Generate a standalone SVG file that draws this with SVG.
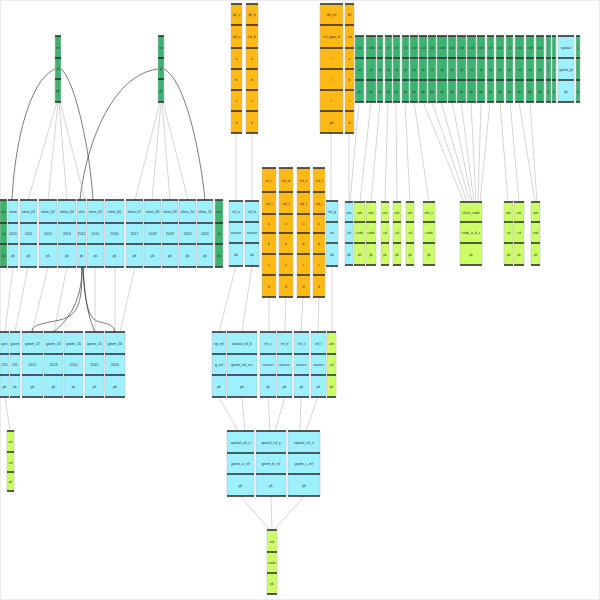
<svg xmlns="http://www.w3.org/2000/svg" width="600" height="600" viewBox="0 0 600 600">
<style>
.cy{fill:#9cf0ff}.gr{fill:#3cb371}.or{fill:#ffb914}.li{fill:#ccff66}
rect{stroke:#c0c0c0;stroke-width:.6}
.sep{stroke:#2a2a2a;stroke-width:1.3;fill:none}
text{font-family:"Liberation Sans",sans-serif;font-size:3.5px;fill:#333;text-anchor:middle}
.e{stroke:#aaa;stroke-width:.5;fill:none}.k{stroke:#222;stroke-width:.6;fill:none}
</style>
<rect x="0" y="0" width="600" height="600" fill="#fff" stroke="none"/>
<g id="edges">
<path class="k" d="M55 69C30 80 15 140 12 200M61 69C75 80 90 150 93 200M158 69C110 75 85 150 80 200M164 69C185 80 200 150 205 200"/>
<path class="e" d="M57 102L28 200M58 102L48 200M59 102L67 200M60 102L85 200M160 102L135 200M161 102L152 200M162 102L170 200M163 102L188 200"/>
<path class="e" d="M236 133V201M252 133V201M331 133V201M349 133V202"/>
<path class="e" d="M359 102L350 202M371 102L360 202M380 102L371 202M388 102L385 202M396 102L397 202M405 102L410 202M414 102L429 202M423 102L464 202M432 102L467 202M441 102L470 202M452 102L472 202M461 102L474 202M471 102L476 202M481 102L478 202M490 102L480 202M500 102L508 202M510 102L519 202M519 102L535 202M530 102L537 202"/>
<path class="e" d="M13 267L5 332M28 267L15 332M48 267L32 332M67 267L54 332M95 267L95 332M115 267L115 332M135 267L120 332"/>
<path class="k" d="M82 267C82 300 80 315 60 320C40 324 32 325 32 332M82 267C82 300 70 318 54 332M83 267C85 310 90 320 100 322C110 324 114 326 115 332M83 267C85 310 92 325 95 332"/>
<path class="e" d="M236 266L219 332M252 266L242 332M269 297V332M286 297L285 332M303 297L301 332M319 297L318 332M332 266V332"/>
<path class="e" d="M219 397L238 431M242 397L245 431M268 397L270 431M285 397L275 431M301 397L300 431M318 397L306 431M5 397L10 431"/>
<path class="e" d="M240 496L270 530M271 496L272 530M304 496L274 530"/>
</g>
<g id="gA"><rect class="gr" x="55" y="36" width="6" height="66"/><path class="sep" d="M55 36h6M55 58h6M55 79h6M55 102h6"/><text x="58" y="48.5">en</text><text x="58" y="70">id</text><text x="58" y="92">pk</text></g>
<g id="gB"><rect class="gr" x="158" y="36" width="6" height="66"/><path class="sep" d="M158 36h6M158 58h6M158 79h6M158 102h6"/><text x="161" y="48.5">en</text><text x="161" y="70">id</text><text x="161" y="92">pk</text></g>
<g id="o1"><rect class="or" x="231" y="4" width="11" height="129"/><path class="sep" d="M231 4h11M231 25h11M231 48h11M231 69h11M231 90h11M231 111h11M231 133h11"/><text x="236.5" y="16">tbl_a</text><text x="236.5" y="38">rid_a</text><text x="236.5" y="60">a</text><text x="236.5" y="81">b</text><text x="236.5" y="102">c</text><text x="236.5" y="123.5">d</text></g>
<g id="o2"><rect class="or" x="246" y="4" width="12" height="129"/><path class="sep" d="M246 4h12M246 25h12M246 48h12M246 69h12M246 90h12M246 111h12M246 133h12"/><text x="252" y="16">tbl_b</text><text x="252" y="38">rid_b</text><text x="252" y="60">a</text><text x="252" y="81">b</text><text x="252" y="102">c</text><text x="252" y="123.5">d</text></g>
<g id="o3"><rect class="or" x="320" y="4" width="23" height="129"/><path class="sep" d="M320 4h23M320 25h23M320 48h23M320 69h23M320 90h23M320 111h23M320 133h23"/><text x="331.5" y="16">tbl_rel</text><text x="331.5" y="38">rel_type_d</text><text x="331.5" y="60">i</text><text x="331.5" y="81">i</text><text x="331.5" y="102">i</text><text x="331.5" y="123.5">pk</text></g>
<g id="o4"><rect class="or" x="345" y="4" width="9" height="129"/><path class="sep" d="M345 4h9M345 25h9M345 48h9M345 69h9M345 90h9M345 111h9M345 133h9"/><text x="349.5" y="16">tbl</text><text x="349.5" y="38">rid</text><text x="349.5" y="60">a</text><text x="349.5" y="81">b</text><text x="349.5" y="102">c</text><text x="349.5" y="123.5">d</text></g>
<g id="r1"><rect class="gr" x="355" y="36" width="9" height="66"/><path class="sep" d="M355 36h9M355 58h9M355 80h9M355 102h9"/><text x="359.5" y="48.5">cod</text><text x="359.5" y="70.5">id</text><text x="359.5" y="92.5">pk</text></g>
<g id="r2"><rect class="gr" x="366" y="36" width="10" height="66"/><path class="sep" d="M366 36h10M366 58h10M366 80h10M366 102h10"/><text x="371" y="48.5">code</text><text x="371" y="70.5">id</text><text x="371" y="92.5">pk</text></g>
<g id="r3"><rect class="gr" x="377" y="36" width="6" height="66"/><path class="sep" d="M377 36h6M377 58h6M377 80h6M377 102h6"/><text x="380" y="48.5">cd</text><text x="380" y="70.5">id</text><text x="380" y="92.5">pk</text></g>
<g id="r4"><rect class="gr" x="385" y="36" width="7" height="66"/><path class="sep" d="M385 36h7M385 58h7M385 80h7M385 102h7"/><text x="388.5" y="48.5">cd</text><text x="388.5" y="70.5">id</text><text x="388.5" y="92.5">pk</text></g>
<g id="r5"><rect class="gr" x="393" y="36" width="7" height="66"/><path class="sep" d="M393 36h7M393 58h7M393 80h7M393 102h7"/><text x="396.5" y="48.5">cd</text><text x="396.5" y="70.5">id</text><text x="396.5" y="92.5">pk</text></g>
<g id="r6"><rect class="gr" x="402" y="36" width="7" height="66"/><path class="sep" d="M402 36h7M402 58h7M402 80h7M402 102h7"/><text x="405.5" y="48.5">cd</text><text x="405.5" y="70.5">id</text><text x="405.5" y="92.5">pk</text></g>
<g id="r7"><rect class="gr" x="410" y="36" width="8" height="66"/><path class="sep" d="M410 36h8M410 58h8M410 80h8M410 102h8"/><text x="414" y="48.5">cod</text><text x="414" y="70.5">id</text><text x="414" y="92.5">pk</text></g>
<g id="r8"><rect class="gr" x="419" y="36" width="8" height="66"/><path class="sep" d="M419 36h8M419 58h8M419 80h8M419 102h8"/><text x="423" y="48.5">cod</text><text x="423" y="70.5">id</text><text x="423" y="92.5">pk</text></g>
<g id="r9"><rect class="gr" x="428" y="36" width="8" height="66"/><path class="sep" d="M428 36h8M428 58h8M428 80h8M428 102h8"/><text x="432" y="48.5">cod</text><text x="432" y="70.5">id</text><text x="432" y="92.5">pk</text></g>
<g id="r10"><rect class="gr" x="437" y="36" width="10" height="66"/><path class="sep" d="M437 36h10M437 58h10M437 80h10M437 102h10"/><text x="442" y="48.5">code</text><text x="442" y="70.5">id</text><text x="442" y="92.5">pk</text></g>
<g id="r11"><rect class="gr" x="448" y="36" width="8" height="66"/><path class="sep" d="M448 36h8M448 58h8M448 80h8M448 102h8"/><text x="452" y="48.5">cod</text><text x="452" y="70.5">id</text><text x="452" y="92.5">pk</text></g>
<g id="r12"><rect class="gr" x="457" y="36" width="9" height="66"/><path class="sep" d="M457 36h9M457 58h9M457 80h9M457 102h9"/><text x="461.5" y="48.5">cod</text><text x="461.5" y="70.5">id</text><text x="461.5" y="92.5">pk</text></g>
<g id="r13"><rect class="gr" x="467" y="36" width="9" height="66"/><path class="sep" d="M467 36h9M467 58h9M467 80h9M467 102h9"/><text x="471.5" y="48.5">cod</text><text x="471.5" y="70.5">id</text><text x="471.5" y="92.5">pk</text></g>
<g id="r14"><rect class="gr" x="477" y="36" width="8" height="66"/><path class="sep" d="M477 36h8M477 58h8M477 80h8M477 102h8"/><text x="481" y="48.5">cod</text><text x="481" y="70.5">id</text><text x="481" y="92.5">pk</text></g>
<g id="r15"><rect class="gr" x="487" y="36" width="7" height="66"/><path class="sep" d="M487 36h7M487 58h7M487 80h7M487 102h7"/><text x="490.5" y="48.5">cd</text><text x="490.5" y="70.5">id</text><text x="490.5" y="92.5">pk</text></g>
<g id="r16"><rect class="gr" x="496" y="36" width="8" height="66"/><path class="sep" d="M496 36h8M496 58h8M496 80h8M496 102h8"/><text x="500" y="48.5">cod</text><text x="500" y="70.5">id</text><text x="500" y="92.5">pk</text></g>
<g id="r17"><rect class="gr" x="506" y="36" width="7" height="66"/><path class="sep" d="M506 36h7M506 58h7M506 80h7M506 102h7"/><text x="509.5" y="48.5">cd</text><text x="509.5" y="70.5">id</text><text x="509.5" y="92.5">pk</text></g>
<g id="r18"><rect class="gr" x="515" y="36" width="9" height="66"/><path class="sep" d="M515 36h9M515 58h9M515 80h9M515 102h9"/><text x="519.5" y="48.5">cod</text><text x="519.5" y="70.5">id</text><text x="519.5" y="92.5">pk</text></g>
<g id="r19"><rect class="gr" x="526" y="36" width="8" height="66"/><path class="sep" d="M526 36h8M526 58h8M526 80h8M526 102h8"/><text x="530" y="48.5">cod</text><text x="530" y="70.5">id</text><text x="530" y="92.5">pk</text></g>
<g id="r20"><rect class="gr" x="536" y="36" width="8" height="66"/><path class="sep" d="M536 36h8M536 58h8M536 80h8M536 102h8"/><text x="540" y="48.5">cod</text><text x="540" y="70.5">id</text><text x="540" y="92.5">pk</text></g>
<g id="r21"><rect class="gr" x="546" y="36" width="5" height="66"/><path class="sep" d="M546 36h5M546 58h5M546 80h5M546 102h5"/><text x="548.5" y="48.5">c</text><text x="548.5" y="70.5">i</text><text x="548.5" y="92.5">p</text></g>
<g id="r22"><rect class="gr" x="552" y="36" width="4" height="66"/><path class="sep" d="M552 36h4M552 58h4M552 80h4M552 102h4"/><text x="554" y="48.5">c</text><text x="554" y="70.5">i</text><text x="554" y="92.5">p</text></g>
<g id="r23"><rect class="cy" x="558" y="36" width="16" height="66"/><path class="sep" d="M558 36h16M558 58h16M558 80h16M558 102h16"/><text x="566" y="48.5">spatial</text><text x="566" y="70.5">geom_pt</text><text x="566" y="92.5">pk</text></g>
<g id="r24"><rect class="gr" x="576" y="36" width="4" height="66"/><path class="sep" d="M576 36h4M576 58h4M576 80h4M576 102h4"/><text x="578" y="48.5">c</text><text x="578" y="70.5">i</text><text x="578" y="92.5">p</text></g>
<g id="c0"><rect class="gr" x="0" y="200" width="7" height="67"/><path class="sep" d="M0 200h7M0 223h7M0 244h7M0 267h7"/><text x="3.5" y="213">ent</text><text x="3.5" y="235">id</text><text x="3.5" y="257">pk</text></g>
<g id="c1"><rect class="cy" x="8" y="200" width="10" height="67"/><path class="sep" d="M8 200h10M8 223h10M8 244h10M8 267h10"/><text x="13" y="213">elem</text><text x="13" y="235">2010</text><text x="13" y="257">pk</text></g>
<g id="c2"><rect class="cy" x="20" y="200" width="17" height="67"/><path class="sep" d="M20 200h17M20 223h17M20 244h17M20 267h17"/><text x="28.5" y="213">elem_01</text><text x="28.5" y="235">2011</text><text x="28.5" y="257">pk</text></g>
<g id="c3"><rect class="cy" x="39" y="200" width="18" height="67"/><path class="sep" d="M39 200h18M39 223h18M39 244h18M39 267h18"/><text x="48" y="213">elem_02</text><text x="48" y="235">2012</text><text x="48" y="257">pk</text></g>
<g id="c4"><rect class="cy" x="58" y="200" width="18" height="67"/><path class="sep" d="M58 200h18M58 223h18M58 244h18M58 267h18"/><text x="67" y="213">elem_03</text><text x="67" y="235">2013</text><text x="67" y="257">pk</text></g>
<g id="c5"><rect class="cy" x="77" y="200" width="9" height="67"/><path class="sep" d="M77 200h9M77 223h9M77 244h9M77 267h9"/><text x="81.5" y="213">elm</text><text x="81.5" y="235">2014</text><text x="81.5" y="257">pk</text></g>
<g id="c6"><rect class="cy" x="87" y="200" width="17" height="67"/><path class="sep" d="M87 200h17M87 223h17M87 244h17M87 267h17"/><text x="95.5" y="213">elem_05</text><text x="95.5" y="235">2015</text><text x="95.5" y="257">pk</text></g>
<g id="c7"><rect class="cy" x="105" y="200" width="19" height="67"/><path class="sep" d="M105 200h19M105 223h19M105 244h19M105 267h19"/><text x="114.5" y="213">elem_06</text><text x="114.5" y="235">2016</text><text x="114.5" y="257">pk</text></g>
<g id="c8"><rect class="cy" x="126" y="200" width="17" height="67"/><path class="sep" d="M126 200h17M126 223h17M126 244h17M126 267h17"/><text x="134.5" y="213">elem_07</text><text x="134.5" y="235">2017</text><text x="134.5" y="257">pk</text></g>
<g id="c9"><rect class="cy" x="144" y="200" width="17" height="67"/><path class="sep" d="M144 200h17M144 223h17M144 244h17M144 267h17"/><text x="152.5" y="213">elem_08</text><text x="152.5" y="235">2018</text><text x="152.5" y="257">pk</text></g>
<g id="c10"><rect class="cy" x="162" y="200" width="16" height="67"/><path class="sep" d="M162 200h16M162 223h16M162 244h16M162 267h16"/><text x="170" y="213">elem_09</text><text x="170" y="235">2019</text><text x="170" y="257">pk</text></g>
<g id="c11"><rect class="cy" x="179" y="200" width="17" height="67"/><path class="sep" d="M179 200h17M179 223h17M179 244h17M179 267h17"/><text x="187.5" y="213">elem_10</text><text x="187.5" y="235">2020</text><text x="187.5" y="257">pk</text></g>
<g id="c12"><rect class="cy" x="197" y="200" width="16" height="67"/><path class="sep" d="M197 200h16M197 223h16M197 244h16M197 267h16"/><text x="205" y="213">elem_11</text><text x="205" y="235">2021</text><text x="205" y="257">pk</text></g>
<g id="c13"><rect class="gr" x="215" y="200" width="8" height="67"/><path class="sep" d="M215 200h8M215 223h8M215 244h8M215 267h8"/><text x="219" y="213">ent</text><text x="219" y="235">id</text><text x="219" y="257">pk</text></g>
<g id="m1"><rect class="cy" x="229" y="201" width="14" height="65"/><path class="sep" d="M229 201h14M229 222h14M229 243h14M229 266h14"/><text x="236" y="213">rel_a</text><text x="236" y="234">source</text><text x="236" y="256">pk</text></g>
<g id="m2"><rect class="cy" x="245" y="201" width="14" height="65"/><path class="sep" d="M245 201h14M245 222h14M245 243h14M245 266h14"/><text x="252" y="213">rel_b</text><text x="252" y="234">source</text><text x="252" y="256">pk</text></g>
<g id="m3"><rect class="or" x="262" y="168" width="14" height="129"/><path class="sep" d="M262 168h14M262 192h14M262 214h14M262 233h14M262 254h14M262 275h14M262 297h14"/><text x="269" y="181.5">rel_c</text><text x="269" y="204.5">rid_t</text><text x="269" y="225">a</text><text x="269" y="245">b</text><text x="269" y="266">c</text><text x="269" y="287.5">d</text></g>
<g id="m4"><rect class="or" x="279" y="168" width="14" height="129"/><path class="sep" d="M279 168h14M279 192h14M279 214h14M279 233h14M279 254h14M279 275h14M279 297h14"/><text x="286" y="181.5">rel_d</text><text x="286" y="204.5">rid_t</text><text x="286" y="225">a</text><text x="286" y="245">b</text><text x="286" y="266">c</text><text x="286" y="287.5">d</text></g>
<g id="m5"><rect class="or" x="297" y="168" width="13" height="129"/><path class="sep" d="M297 168h13M297 192h13M297 214h13M297 233h13M297 254h13M297 275h13M297 297h13"/><text x="303.5" y="181.5">rel_e</text><text x="303.5" y="204.5">rid_t</text><text x="303.5" y="225">a</text><text x="303.5" y="245">b</text><text x="303.5" y="266">c</text><text x="303.5" y="287.5">d</text></g>
<g id="m6"><rect class="or" x="313" y="168" width="12" height="129"/><path class="sep" d="M313 168h12M313 192h12M313 214h12M313 233h12M313 254h12M313 275h12M313 297h12"/><text x="319" y="181.5">rel_f</text><text x="319" y="204.5">rid_t</text><text x="319" y="225">a</text><text x="319" y="245">b</text><text x="319" y="266">c</text><text x="319" y="287.5">d</text></g>
<g id="m7"><rect class="cy" x="326" y="201" width="12" height="65"/><path class="sep" d="M326 201h12M326 222h12M326 243h12M326 266h12"/><text x="332" y="213">rel_g</text><text x="332" y="234">src</text><text x="332" y="256">pk</text></g>
<g id="l0"><rect class="cy" x="345" y="202" width="8" height="63"/><path class="sep" d="M345 202h8M345 222h8M345 243h8M345 265h8"/><text x="349" y="213.5">attr</text><text x="349" y="234">cd</text><text x="349" y="255.5">pk</text></g>
<g id="l1"><rect class="li" x="354" y="202" width="11" height="63"/><path class="sep" d="M354 202h11M354 222h11M354 243h11M354 265h11"/><text x="359.5" y="213.5">attr</text><text x="359.5" y="234">code</text><text x="359.5" y="255.5">pk</text></g>
<g id="l2"><rect class="li" x="366" y="202" width="10" height="63"/><path class="sep" d="M366 202h10M366 222h10M366 243h10M366 265h10"/><text x="371" y="213.5">attr</text><text x="371" y="234">code</text><text x="371" y="255.5">pk</text></g>
<g id="l3"><rect class="li" x="381" y="202" width="8" height="63"/><path class="sep" d="M381 202h8M381 222h8M381 243h8M381 265h8"/><text x="385" y="213.5">attr</text><text x="385" y="234">cd</text><text x="385" y="255.5">pk</text></g>
<g id="l4"><rect class="li" x="393" y="202" width="8" height="63"/><path class="sep" d="M393 202h8M393 222h8M393 243h8M393 265h8"/><text x="397" y="213.5">attr</text><text x="397" y="234">cd</text><text x="397" y="255.5">pk</text></g>
<g id="l5"><rect class="li" x="406" y="202" width="8" height="63"/><path class="sep" d="M406 202h8M406 222h8M406 243h8M406 265h8"/><text x="410" y="213.5">attr</text><text x="410" y="234">cd</text><text x="410" y="255.5">pk</text></g>
<g id="l6"><rect class="li" x="423" y="202" width="12" height="63"/><path class="sep" d="M423 202h12M423 222h12M423 243h12M423 265h12"/><text x="429" y="213.5">attr_c</text><text x="429" y="234">code</text><text x="429" y="255.5">pk</text></g>
<g id="l7"><rect class="li" x="460" y="202" width="22" height="63"/><path class="sep" d="M460 202h22M460 222h22M460 243h22M460 265h22"/><text x="471" y="213.5">class_code</text><text x="471" y="234">code_a_b_c</text><text x="471" y="255.5">pk</text></g>
<g id="l8"><rect class="li" x="504" y="202" width="9" height="63"/><path class="sep" d="M504 202h9M504 222h9M504 243h9M504 265h9"/><text x="508.5" y="213.5">attr</text><text x="508.5" y="234">cd</text><text x="508.5" y="255.5">pk</text></g>
<g id="l9"><rect class="li" x="514" y="202" width="10" height="63"/><path class="sep" d="M514 202h10M514 222h10M514 243h10M514 265h10"/><text x="519" y="213.5">attr</text><text x="519" y="234">cd</text><text x="519" y="255.5">pk</text></g>
<g id="l10"><rect class="li" x="531" y="202" width="9" height="63"/><path class="sep" d="M531 202h9M531 222h9M531 243h9M531 265h9"/><text x="535.5" y="213.5">attr</text><text x="535.5" y="234">cod</text><text x="535.5" y="255.5">pk</text></g>
<g id="d1"><rect class="cy" x="0" y="332" width="9" height="65"/><path class="sep" d="M0 332h9M0 354h9M0 375h9M0 397h9"/><text x="4.5" y="344.5">geo</text><text x="4.5" y="366">210</text><text x="4.5" y="387.5">pk</text></g>
<g id="d2"><rect class="cy" x="10" y="332" width="10" height="65"/><path class="sep" d="M10 332h10M10 354h10M10 375h10M10 397h10"/><text x="15" y="344.5">geom</text><text x="15" y="366">211</text><text x="15" y="387.5">pk</text></g>
<g id="d3"><rect class="cy" x="22" y="332" width="21" height="65"/><path class="sep" d="M22 332h21M22 354h21M22 375h21M22 397h21"/><text x="32.5" y="344.5">geom_12</text><text x="32.5" y="366">2012</text><text x="32.5" y="387.5">pk</text></g>
<g id="d4"><rect class="cy" x="44" y="332" width="19" height="65"/><path class="sep" d="M44 332h19M44 354h19M44 375h19M44 397h19"/><text x="53.5" y="344.5">geom_13</text><text x="53.5" y="366">2013</text><text x="53.5" y="387.5">pk</text></g>
<g id="d5"><rect class="cy" x="64" y="332" width="19" height="65"/><path class="sep" d="M64 332h19M64 354h19M64 375h19M64 397h19"/><text x="73.5" y="344.5">geom_14</text><text x="73.5" y="366">2014</text><text x="73.5" y="387.5">pk</text></g>
<g id="d6"><rect class="cy" x="85" y="332" width="19" height="65"/><path class="sep" d="M85 332h19M85 354h19M85 375h19M85 397h19"/><text x="94.5" y="344.5">geom_15</text><text x="94.5" y="366">2015</text><text x="94.5" y="387.5">pk</text></g>
<g id="d7"><rect class="cy" x="105" y="332" width="20" height="65"/><path class="sep" d="M105 332h20M105 354h20M105 375h20M105 397h20"/><text x="115" y="344.5">geom_16</text><text x="115" y="366">2016</text><text x="115" y="387.5">pk</text></g>
<g id="d8"><rect class="cy" x="212" y="332" width="14" height="65"/><path class="sep" d="M212 332h14M212 354h14M212 375h14M212 397h14"/><text x="219" y="344.5">sp_rel</text><text x="219" y="366">g_ref</text><text x="219" y="387.5">pk</text></g>
<g id="d9"><rect class="cy" x="227" y="332" width="30" height="65"/><path class="sep" d="M227 332h30M227 354h30M227 375h30M227 397h30"/><text x="242" y="344.5">spatial_rel_b</text><text x="242" y="366">geom_ref_src</text><text x="242" y="387.5">pk</text></g>
<g id="d10"><rect class="cy" x="260" y="332" width="16" height="65"/><path class="sep" d="M260 332h16M260 354h16M260 375h16M260 397h16"/><text x="268" y="344.5">rel_c</text><text x="268" y="366">source</text><text x="268" y="387.5">pk</text></g>
<g id="d11"><rect class="cy" x="277" y="332" width="15" height="65"/><path class="sep" d="M277 332h15M277 354h15M277 375h15M277 397h15"/><text x="284.5" y="344.5">rel_d</text><text x="284.5" y="366">source</text><text x="284.5" y="387.5">pk</text></g>
<g id="d12"><rect class="cy" x="294" y="332" width="15" height="65"/><path class="sep" d="M294 332h15M294 354h15M294 375h15M294 397h15"/><text x="301.5" y="344.5">rel_e</text><text x="301.5" y="366">source</text><text x="301.5" y="387.5">pk</text></g>
<g id="d13"><rect class="cy" x="311" y="332" width="15" height="65"/><path class="sep" d="M311 332h15M311 354h15M311 375h15M311 397h15"/><text x="318.5" y="344.5">rel_f</text><text x="318.5" y="366">source</text><text x="318.5" y="387.5">pk</text></g>
<g id="d14"><rect class="li" x="327" y="332" width="9" height="65"/><path class="sep" d="M327 332h9M327 354h9M327 375h9M327 397h9"/><text x="331.5" y="344.5">attr</text><text x="331.5" y="366">cd</text><text x="331.5" y="387.5">pk</text></g>
<g id="e1"><rect class="li" x="7" y="431" width="7" height="60"/><path class="sep" d="M7 431h7M7 452h7M7 472h7M7 491h7"/><text x="10.5" y="443">att</text><text x="10.5" y="463.5">cd</text><text x="10.5" y="483">pk</text></g>
<g id="f1"><rect class="cy" x="227" y="431" width="27" height="65"/><path class="sep" d="M227 431h27M227 453h27M227 474h27M227 496h27"/><text x="240.5" y="443.5">spatial_rel_x</text><text x="240.5" y="465">geom_a_ref</text><text x="240.5" y="486.5">pk</text></g>
<g id="f2"><rect class="cy" x="256" y="431" width="30" height="65"/><path class="sep" d="M256 431h30M256 453h30M256 474h30M256 496h30"/><text x="271" y="443.5">spatial_rel_y</text><text x="271" y="465">geom_b_ref</text><text x="271" y="486.5">pk</text></g>
<g id="f3"><rect class="cy" x="288" y="431" width="32" height="65"/><path class="sep" d="M288 431h32M288 453h32M288 474h32M288 496h32"/><text x="304" y="443.5">spatial_rel_z</text><text x="304" y="465">geom_c_ref</text><text x="304" y="486.5">pk</text></g>
<g id="h1"><rect class="li" x="267" y="530" width="10" height="64"/><path class="sep" d="M267 530h10M267 552h10M267 573h10M267 594h10"/><text x="272" y="542.5">attr</text><text x="272" y="564">code</text><text x="272" y="585">pk</text></g>
</svg>
